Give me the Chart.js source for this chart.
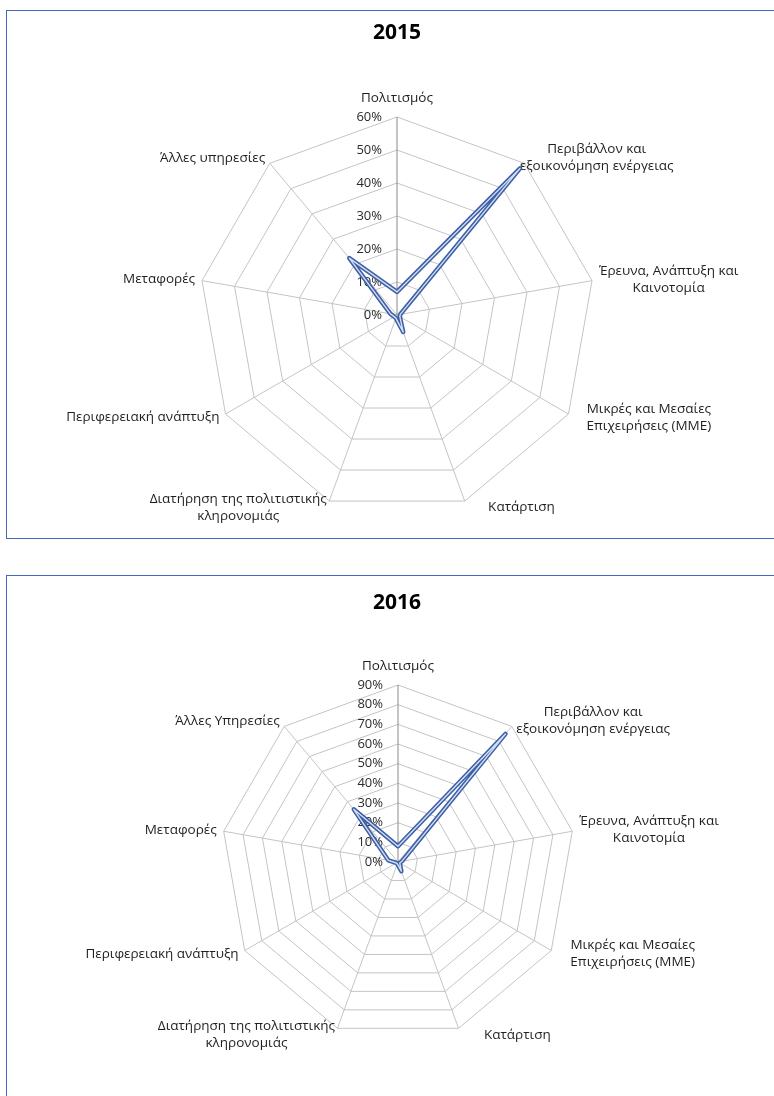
<!DOCTYPE html>
<html><head><meta charset="utf-8">
<script src="https://cdn.jsdelivr.net/npm/chart.js@4.4.1/dist/chart.umd.min.js"></script>
<style>
html,body{margin:0;padding:0;background:#fff;overflow:hidden;width:774px;height:1096px;}
.box{position:absolute;left:6px;width:782px;border:1px solid #4268c0;box-sizing:border-box;overflow:hidden;}
#box1{top:10px;height:529px;}
#box2{top:575px;height:529px;}
canvas{position:absolute;left:0;top:0;}
</style></head>
<body>
<div class="box" id="box1"><canvas id="c1" width="780" height="527"></canvas></div>
<div class="box" id="box2"><canvas id="c2" width="780" height="527"></canvas></div>
<script>
// ---- data ----
const categories2015 = [
  'Πολιτισμός',
  ['Περιβάλλον και', 'εξοικονόμηση ενέργειας'],
  ['Έρευνα, Ανάπτυξη και', 'Καινοτομία'],
  ['Μικρές και Μεσαίες', 'Επιχειρήσεις (ΜΜΕ)'],
  'Κατάρτιση',
  ['Διατήρηση της πολιτιστικής', 'κληρονομιάς'],
  'Περιφερειακή ανάπτυξη',
  'Μεταφορές',
  'Άλλες υπηρεσίες'
];
const categories2016 = [
  'Πολιτισμός',
  ['Περιβάλλον και', 'εξοικονόμηση ενέργειας'],
  ['Έρευνα, Ανάπτυξη και', 'Καινοτομία'],
  ['Μικρές και Μεσαίες', 'Επιχειρήσεις (ΜΜΕ)'],
  'Κατάρτιση',
  ['Διατήρηση της πολιτιστικής', 'κληρονομιάς'],
  'Περιφερειακή ανάπτυξη',
  'Μεταφορές',
  'Άλλες Υπηρεσίες'
];
const values2015 = [7, 58, 1, 1, 5.5, 1, 1, 2, 22.5];
const values2016 = [8, 85, 2, 1, 5, 1, 1, 5, 35];
const ticks2015 = [0, 10, 20, 30, 40, 50, 60];
const ticks2016 = [0, 10, 20, 30, 40, 50, 60, 70, 80, 90];
const title2015 = '2015';
const title2016 = '2016';

// ---- drawing helpers ----
const FONT = "'Open Sans', 'Noto Sans', sans-serif";
const excelPlugin = {
  id: 'excelRadar',
  beforeDatasetsDraw(chart, args, opts) {
    const s = chart.scales.r;
    const ctx = chart.ctx;
    ctx.save();
    // tick labels, left of the vertical axis
    ctx.font = '13px ' + FONT;
    ctx.fillStyle = '#2b2b2b';
    ctx.textAlign = 'right';
    ctx.textBaseline = 'middle';
    s.ticks.forEach(t => {
      const d = s.getDistanceFromCenterForValue(t.value);
      ctx.fillText(t.value + '%', s.xCenter - opts.tickGap, s.yCenter - d);
    });
    // category labels
    ctx.font = opts.labelFont + 'px ' + FONT;
    ctx.fillStyle = '#1f1f1f';
    ctx.textBaseline = 'middle';
    ctx.textAlign = 'center';
    const lh = opts.lineHeight;
    chart.data.labels.forEach((lab, i) => {
      const lines = Array.isArray(lab) ? lab : [lab];
      const w = Math.max(...lines.map(l => ctx.measureText(l).width));
      const h = lines.length * lh;
      const p = s.getPointPosition(i, s.drawingArea + opts.labelPad);
      let deg = (s.getIndexAngle(i) * 180 / Math.PI) % 360;
      let left, top;
      if (Math.abs(deg) < 0.5) { left = p.x - w / 2; top = p.y - opts.topLift - h; }
      else if (Math.abs(deg - 180) < 0.5) { left = p.x - w / 2; top = p.y; }
      else if (deg < 180) { left = p.x; top = p.y - h / 2; }
      else { left = p.x - w; top = p.y - h / 2; }
      left += (opts.nudge[i] || 0);
      lines.forEach((l, k) => ctx.fillText(l, left + w / 2, top + lh * (k + 0.5)));
    });
    ctx.restore();
  },
  afterDatasetsDraw(chart, args, opts) {
    const meta = chart.getDatasetMeta(0);
    const ctx = chart.ctx;
    ctx.save();
    ctx.beginPath();
    meta.data.forEach((pt, i) => i ? ctx.lineTo(pt.x, pt.y) : ctx.moveTo(pt.x, pt.y));
    ctx.closePath();
    ctx.strokeStyle = '#d3dff3';
    ctx.lineWidth = 1.4;
    ctx.lineJoin = 'round';
    ctx.stroke();
    ctx.restore();
  }
};

function makeChart(id, cfg) {
  return new Chart(document.getElementById(id), {
    type: 'radar',
    data: {
      labels: cfg.labels,
      datasets: [{
        data: cfg.values,
        borderColor: '#3d5fa6',
        borderWidth: 4.5,
        borderJoinStyle: 'round',
        fill: false,
        pointRadius: 0,
        pointHoverRadius: 0
      }]
    },
    options: {
      responsive: false,
      animation: false,
      devicePixelRatio: 1,
      events: [],
      plugins: {
        legend: { display: false },
        tooltip: { enabled: false },
        title: {
          display: true, text: cfg.title, color: '#000000',
          font: { family: FONT, size: 21, weight: 'bold' },
          padding: { top: cfg.titleTop, bottom: 0 }
        },
        excelRadar: {
          tickGap: 15, labelFont: 13.5, lineHeight: 17, labelPad: 7, topLift: 3,
          nudge: cfg.nudge
        }
      },
      scales: {
        r: {
          min: 0, max: cfg.ticks[cfg.ticks.length - 1], startAngle: 0,
          ticks: { display: false, stepSize: 10 },
          afterBuildTicks: s => { s.ticks = cfg.ticks.map(v => ({ value: v })); },
          grid: { color: '#c4c4c4', lineWidth: 1 },
          angleLines: { color: c => c.index === 0 ? '#8a8a8a' : '#c4c4c4', lineWidth: 1 },
          pointLabels: { display: false },
          afterFit: s => { s.xCenter = cfg.cx; s.yCenter = cfg.cy; s.drawingArea = cfg.radius; }
        }
      }
    },
    plugins: [excelPlugin]
  });
}

makeChart('c1', {
  labels: categories2015, values: values2015, ticks: ticks2015, title: title2015,
  titleTop: 9.5, cx: 390, cy: 304, radius: 198,
  nudge: [0, -9, 0, 12, 21, 0, 0, 0, 0]
});
makeChart('c2', {
  labels: categories2016, values: values2016, ticks: ticks2016, title: title2016,
  titleTop: 14, cx: 391, cy: 286, radius: 177,
  nudge: [0, 0, 0, 13, 23, 0, 0, 0, 0]
});
</script>
</body></html>
